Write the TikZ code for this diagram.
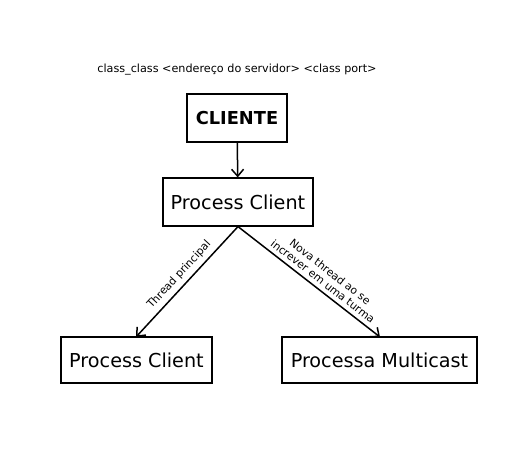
\documentclass[tikz,border=0pt]{standalone}
\usepackage{fontspec}
\setmainfont{DejaVu Sans}
\usetikzlibrary{arrows.meta}
\begin{document}
\begin{tikzpicture}[x=1pt,y=1pt,
  box/.style={draw,line width=1.2pt,inner sep=0pt,anchor=center},
  boxtext/.style={font=\fontsize{19.2}{22}\selectfont},
  conn/.style={line width=1.5pt,-{Straight Barb[length=7pt,width=12pt,line width=1.5pt]}},
  lbl/.style={font=\fontsize{10.8}{12}\selectfont,sloped,align=center,inner sep=1pt}]
\useasboundingbox (0,0) rectangle (520,-460);
\node (cmd) at (237,-70) {\fontsize{11.2}{13}\selectfont class\_class <endereço do servidor> <class port>};
\node[box,minimum width=100pt,minimum height=48pt,font=\bfseries\fontsize{17.8}{20}\selectfont] (cli) at (237,-118) {CLIENTE};
\node[box,boxtext,minimum width=150pt,minimum height=48pt] (pc) at (238,-202) {Process Client};
\node[box,boxtext,minimum width=151pt,minimum height=46pt] (pcl) at (136.5,-360) {Process Client};
\node[box,boxtext,minimum width=195pt,minimum height=46pt] (pm) at (379.5,-360) {Processa Multicast};
\coordinate (lt) at (136,-337);
\coordinate (rt) at (380,-337);
\draw[conn] (cli) -- (pc);
\draw[conn] (pc.south) -- (lt) node[lbl,pos=0.5,above=3.5pt] {Thread principal};
\draw[conn] (pc.south) -- (rt) node[lbl,pos=0.56,above=3pt] {Nova thread ao se\\increver em uma turma};
\end{tikzpicture}
\end{document}
